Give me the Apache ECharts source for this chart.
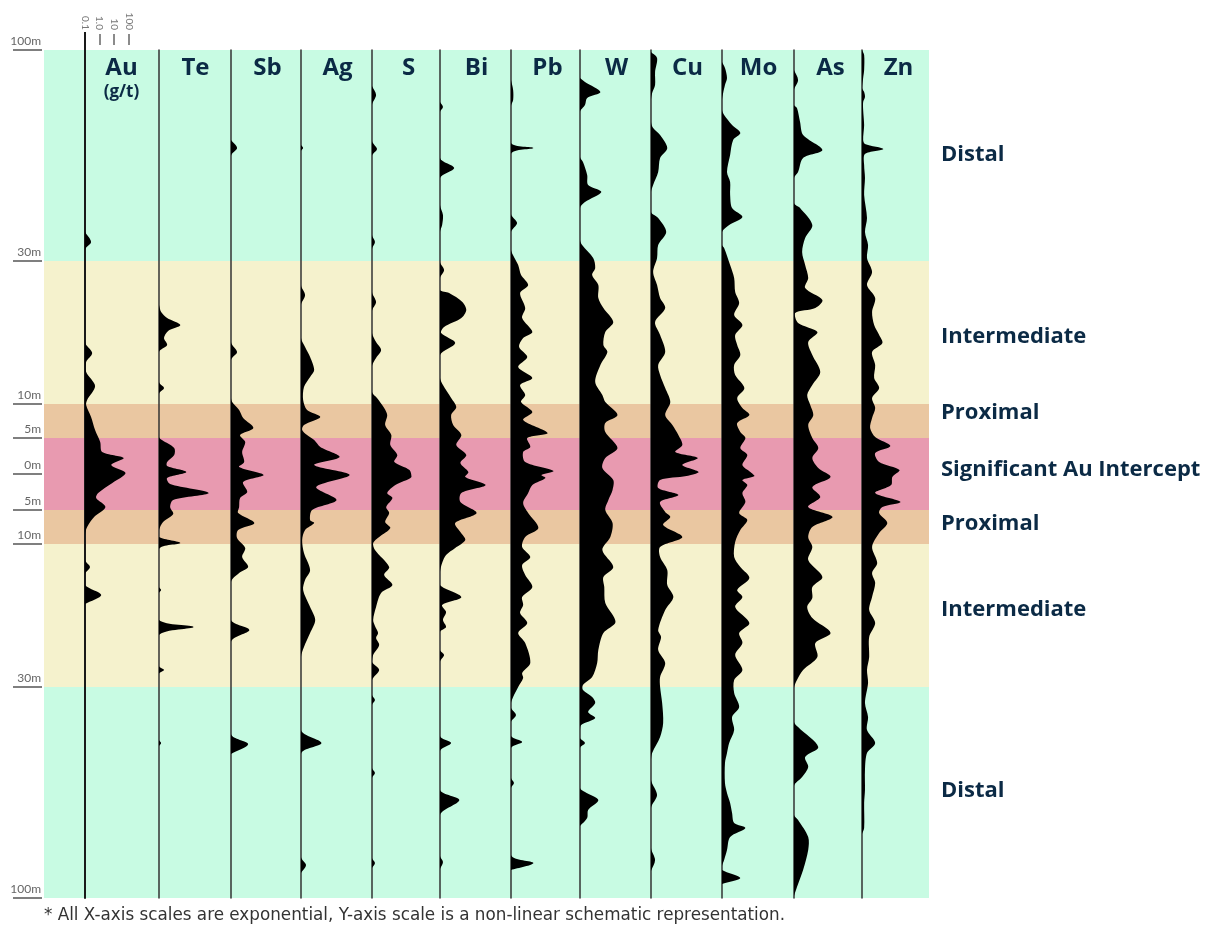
<!DOCTYPE html>
<html><head><meta charset="utf-8">
<script src="https://cdn.jsdelivr.net/npm/echarts@6/dist/echarts.min.js"></script>
<style>html,body{margin:0;padding:0;background:#fff}#c{width:1211px;height:929px}</style>
</head><body><div id="c"></div>
<script>
// ---------- DATA ----------
// Element columns (concentration on an exponential x scale, 0.1 = baseline)
const elements = ['Au','Te','Sb','Ag','S','Bi','Pb','W','Cu','Mo','As','Zn'];
const elementUnits = ['(g/t)','','','','','','','','','','',''];

// Depth is a schematic index (-212 top .. 212 bottom, 0 = centre of Au intercept)
const depthTicks  = [-212,-106.5,-35,-18,0,18,35,106.5,212];
const depthLabels = ['100m','30m','10m','5m','0m','5m','10m','30m','100m'];

const zoneNames = ['Distal','Intermediate','Proximal','Significant Au Intercept','Proximal','Intermediate','Distal'];
const zoneFrom  = [-212,-106.5,-35,-18,18,35,106.5];
const zoneTo    = [-106.5,-35,-18,18,35,106.5,212];

const scaleTicks = [0.1,1,10,100];
const scaleTickLabels = ['0.1','1.0','10','100'];

// profiles: [depth, concentration]
const auData = [[-121,0.1],[-116,0.26],[-112,0.1],[-66,0.1],[-60.5,0.31],[-56,0.12],[-51,0.12],[-44,0.49],[-37,0.14],[-34.5,0.12],[-28.5,0.26],[-22,0.49],[-16,1.1],[-11,1.5],[-8,44],[-4.5,6.3],[-0.5,60],[4.5,7.5],[9.5,0.8],[12,0.58],[16.5,2.5],[21.5,0.42],[26.5,0.14],[30.5,0.1],[43,0.1],[46.5,0.22],[50,0.1],[55.5,0.1],[60.5,1.3],[65,0.1]];
const teData = [[-84.5,0.1],[-81,0.14],[-78,0.36],[-74.5,2.9],[-71.5,0.42],[-68,0.22],[-64.5,0.36],[-61,0.1],[-46,0.1],[-43,0.22],[-40,0.1],[-18.5,0.1],[-17,0.16],[-13,1.1],[-9.5,1.1],[-6,0.36],[-4,0.36],[-1,7.5],[2,0.36],[5,0.58],[9.5,250],[13,0.94],[16.5,0.58],[20,0.94],[24,0.19],[28,0.1],[31.5,0.1],[34.5,2.9],[37.5,0.1],[56.5,0.1],[58,0.14],[59.5,0.1],[73,0.1],[76.5,23],[80.5,0.1],[96,0.1],[98,0.22],[100,0.1],[133,0.1],[134.5,0.14],[136,0.1]];
const sbData = [[-167,0.1],[-163,0.26],[-159,0.1],[-66,0.1],[-61,0.26],[-57,0.1],[-38,0.1],[-36,0.12],[-32,0.36],[-28,0.68],[-23,3.4],[-19.5,0.42],[-16,0.94],[-11,0.58],[-6,0.8],[-3.5,0.36],[0.5,17],[4,0.68],[9,1.3],[12,0.42],[16.5,0.36],[19.5,0.31],[24.5,4],[28,0.31],[32,0.26],[37,0.94],[41.5,0.58],[46.5,1.5],[49.5,0.36],[54,0.1],[73,0.1],[78,1.8],[84,0.1],[130,0.1],[135,1.5],[140,0.1]];
const agData = [[-164.5,0.1],[-163,0.14],[-161.5,0.1],[-94.5,0.1],[-89.5,0.19],[-84.5,0.1],[-68,0.1],[-63.5,0.19],[-58.5,0.42],[-52,0.8],[-48.5,0.42],[-43.5,0.16],[-37,0.14],[-32,0.26],[-28.5,2.1],[-24.5,0.16],[-22,0.12],[-19.5,0.26],[-17,0.8],[-13.5,2.1],[-8.5,44],[-4.5,0.8],[0.5,215],[6.5,1.1],[13,27],[18,0.58],[23,0.42],[24.5,0.8],[28,0.19],[33,0.12],[39.5,0.16],[48,0.42],[53,0.19],[58,0.14],[66.5,0.42],[73,0.94],[79.5,0.42],[86.5,0.16],[91.5,0.1],[128,0.1],[134.5,2.5],[140,0.1],[191.5,0.1],[195.5,0.22],[199.5,0.1]];
const sData = [[-194,0.1],[-189.5,0.19],[-184.5,0.1],[-166.5,0.1],[-162.5,0.22],[-159,0.1],[-119.5,0.1],[-116,0.16],[-112.5,0.1],[-91,0.1],[-86,0.19],[-81.5,0.1],[-70.5,0.1],[-66,0.19],[-62,0.42],[-58,0.19],[-54,0.1],[-41,0.1],[-38,0.22],[-33,0.68],[-29.5,1.1],[-24.5,0.8],[-19.5,2.1],[-14.5,1.8],[-9.5,5.4],[-6,3.4],[-2,37],[1.5,51],[5.5,4],[9.5,1.1],[12,2.5],[16.5,0.94],[19.5,1.5],[24,0.8],[27,1.8],[31.5,0.31],[34.5,0.12],[38,0.16],[46.5,1.5],[50.5,0.68],[55.5,2.5],[59.5,0.42],[66.5,0.19],[73,0.12],[76,0.16],[79.5,0.26],[82,0.19],[85.5,0.31],[90.5,0.12],[94,0.1],[98,0.31],[103,0.1],[110.5,0.1],[113,0.16],[115.5,0.1],[147,0.1],[149.5,0.16],[152,0.1],[192,0.1],[194.5,0.16],[197,0.1]];
const biData = [[-186,0.1],[-183.5,0.16],[-181,0.1],[-158,0.1],[-153,0.94],[-148,0.1],[-134.5,0.1],[-129.5,0.16],[-124.5,0.14],[-121,0.1],[-106,0.1],[-102,0.19],[-98,0.1],[-92,0.1],[-90.5,0.42],[-86,3.4],[-82,6.3],[-78,2.9],[-73.5,0.19],[-70.5,0.12],[-65.5,1.1],[-59.5,0.1],[-48,0.1],[-44.5,0.16],[-38,0.58],[-33.5,1.3],[-29.5,0.58],[-24.5,0.8],[-19.5,2.9],[-14.5,1.3],[-9.5,6.3],[-5.5,2.5],[-1,8.8],[1.5,5.4],[5.5,133],[9.5,2.9],[14,2.5],[19.5,32],[24.5,1.1],[29,2.5],[33,5.4],[37,1.1],[40.5,0.26],[44.5,0.14],[49,0.1],[55.5,0.1],[61.5,2.9],[65.5,0.14],[69,0.26],[73,0.16],[76.5,0.26],[79,0.1],[88,0.1],[90.5,0.19],[94,0.1],[131,0.1],[134.5,0.58],[138.5,0.1],[158,0.1],[163,2.1],[170.5,0.1],[191,0.1],[194,0.16],[197.5,0.1]];
const pbData = [[-197,0.1],[-192,0.14],[-187,0.14],[-184,0.1],[-165.5,0.1],[-163,3.4],[-160,0.1],[-130,0.1],[-125.5,0.26],[-121,0.1],[-112,0.1],[-104.5,0.31],[-99.5,0.49],[-94.5,1.5],[-90.5,0.42],[-83,0.94],[-78,0.58],[-71,2.9],[-68,0.68],[-63.5,0.36],[-58.5,1.3],[-53.5,0.31],[-48,2.9],[-44.5,0.42],[-39.5,0.94],[-36,0.49],[-31,2.9],[-27,0.68],[-20.5,32],[-18,1.3],[-13.5,2.1],[-11,0.68],[-6,0.94],[-1.5,83],[0.5,12],[2,23],[5.5,2.9],[9.5,1.5],[14.5,0.68],[19.5,1.5],[27,7.5],[31.5,0.94],[36.5,0.58],[41.5,2.1],[45.5,0.58],[50.5,0.94],[56.5,2.9],[61.5,0.58],[65.5,0.68],[69.5,0.42],[74.5,1.3],[79.5,0.31],[84.5,0.94],[94.5,2.1],[99.5,0.58],[102,0.68],[106.5,0.31],[111.5,0.14],[114.5,0.1],[117,0.1],[120.5,0.22],[124,0.1],[131,0.1],[134,0.58],[137,0.1],[152,0.1],[154.5,0.16],[157,0.1],[190.5,0.1],[194.5,3.4],[198,0.1]];
const wData = [[-198,0.1],[-196,0.22],[-191,2.5],[-188,0.31],[-184.5,0.22],[-181,0.1],[-158.5,0.1],[-156,0.16],[-149.5,0.31],[-144.5,0.36],[-141,2.9],[-136,0.22],[-133,0.1],[-117,0.1],[-114.5,0.14],[-108,0.8],[-103,1.1],[-99.5,0.68],[-94.5,1.8],[-88,1.8],[-83,4],[-76,19],[-71,5.4],[-64.5,4],[-61,7.5],[-54.5,2.5],[-46,1.1],[-39.5,3.4],[-36,5.4],[-29.5,37],[-25.5,5.4],[-21,5.4],[-13,37],[-8,5.4],[-3,3.4],[3,19],[8,17],[13,8.8],[18,5.4],[24.5,17],[31.5,12],[38,3.4],[46.5,19],[51.5,4],[56.5,4.6],[64.5,5.4],[74,27],[79.5,4],[88,1.8],[94.5,1.5],[101.5,0.68],[105.5,0.16],[108,0.16],[111.5,0.68],[114.5,1.1],[119,0.36],[122,1.1],[125.5,0.12],[128,0.1],[132,0.1],[134.5,0.22],[137,0.1],[157,0.1],[159,0.22],[163,1.8],[168,0.36],[172,0.31],[176,0.1]];
const cuData = [[-211,0.1],[-208,0.26],[-201,0.19],[-194.5,0.19],[-190.5,0.12],[-187,0.1],[-176,0.1],[-173,0.14],[-169.5,0.42],[-163,1.3],[-158,0.42],[-151,0.31],[-144.5,0.14],[-141,0.1],[-131,0.1],[-128,0.31],[-121,1.1],[-114.5,0.31],[-108,0.26],[-101,0.14],[-94.5,0.26],[-88,0.42],[-83,0.94],[-76,0.19],[-69.5,0.42],[-61,0.94],[-54.5,0.31],[-49.5,0.42],[-43,0.94],[-36,2.1],[-29.5,0.94],[-24.5,2.9],[-19.5,7.5],[-14.5,14],[-11,4.6],[-8,158],[-4.5,14],[-1,185],[1,27],[3,0.42],[7,0.31],[10.5,7.5],[14,0.42],[19,0.94],[21.5,2.1],[25.5,0.68],[31.5,14],[36.5,0.42],[41.5,0.42],[48,1.3],[55.5,1.3],[61.5,3.4],[68,0.94],[78,0.31],[81.5,0.49],[88,0.31],[94.5,0.94],[101.5,0.42],[106.5,0.42],[114.5,0.58],[124.5,0.68],[131.5,0.42],[139.5,0.12],[143,0.1],[153,0.1],[160.5,0.26],[167,0.1],[187,0.1],[193,0.19],[198.5,0.1]];
const moData = [[-206,0.1],[-203,0.16],[-198,0.22],[-194.5,0.16],[-190.5,0.12],[-187,0.1],[-182,0.1],[-179.5,0.14],[-174.5,0.49],[-170.5,1.8],[-167,0.58],[-159.5,0.36],[-151,0.22],[-146,0.36],[-139.5,0.36],[-133,0.49],[-128.5,2.5],[-124.5,0.31],[-121,0.1],[-114.5,0.1],[-113,0.14],[-104.5,0.36],[-98,0.68],[-91,0.8],[-85.5,1.5],[-79.5,0.68],[-74.5,2.5],[-69.5,0.8],[-64.5,1.1],[-59.5,1.8],[-54.5,0.68],[-49.5,0.8],[-43,3.4],[-38,1.1],[-33,2.5],[-29.5,7.5],[-25.5,1.1],[-21,1.8],[-18,4],[-13,1.8],[-9.5,5.4],[-4.5,2.5],[-1,8.8],[1,17],[3,2.5],[5.5,5.4],[9.5,2.5],[14,4],[19.5,1.5],[23,5.4],[28,1.8],[34,0.8],[41.5,0.68],[46.5,1.8],[52,7.5],[58,1.1],[61.5,2.5],[66.5,0.8],[74.5,7.5],[79.5,1.5],[84.5,2.5],[90.5,0.8],[98,2.5],[103,0.68],[109.5,0.68],[116.5,1.5],[121.5,0.49],[128,0.68],[134.5,0.31],[139.5,0.22],[144.5,0.16],[154.5,0.16],[159.5,0.22],[164.5,0.36],[169.5,0.49],[174.5,0.68],[177,4],[181.5,0.36],[188,0.22],[193,0.14],[196,0.1],[198,0.1],[202,1.8],[205,0.1]];
const asData = [[-202,0.1],[-197,0.19],[-192,0.1],[-184.5,0.1],[-183,0.16],[-176,0.26],[-169.5,0.42],[-162,8.8],[-158,0.42],[-151,0.19],[-148,0.1],[-135.5,0.1],[-133,0.26],[-124.5,1.8],[-118,0.58],[-111,0.36],[-104.5,0.58],[-98,0.94],[-93,0.58],[-87,8.8],[-83,2.9],[-80.5,0.12],[-75.5,0.19],[-71,4],[-66,0.94],[-59.5,1.8],[-51,6.3],[-44.5,1.8],[-39.5,0.8],[-34.5,1.3],[-29.5,2.1],[-24.5,0.94],[-18,1.8],[-13,4.6],[-8,1.8],[-3,4.6],[1.5,32],[6.5,1.8],[11.5,6.3],[16.5,0.94],[21.5,44],[26.5,1.8],[31.5,0.94],[36.5,1.8],[43,0.94],[51.5,8.8],[56.5,1.8],[62,1.8],[66.5,0.8],[72,1.8],[79.5,32],[84.5,2.9],[91.5,4],[98,0.42],[103,0.16],[107,0.1],[124,0.1],[126.5,0.19],[136.5,4.6],[141.5,0.58],[146.5,0.94],[151.5,0.36],[156,0.1],[170.5,0.1],[173,0.19],[181.5,0.94],[188,0.94],[198,0.42],[206.5,0.16],[211,0.1]];
const znData = [[-212,0.1],[-209.5,0.14],[-202,0.14],[-198,0.12],[-193,0.1],[-191,0.14],[-188.5,0.16],[-186,0.12],[-182,0.12],[-174.5,0.14],[-167,0.12],[-165,0.16],[-162.5,2.9],[-160,0.16],[-154.5,0.14],[-148,0.16],[-139.5,0.14],[-128,0.22],[-121,0.16],[-114.5,0.26],[-108,0.22],[-101,0.49],[-94.5,0.22],[-88,0.8],[-81,0.49],[-74.5,0.68],[-69.5,1.5],[-65.5,2.5],[-61,0.49],[-54.5,0.8],[-48,0.68],[-43,1.5],[-38,0.49],[-33,0.8],[-28,0.49],[-23,0.36],[-18.5,0.8],[-14,8.8],[-10.5,0.8],[-6,1.5],[-2,37],[1.5,12],[5.5,10],[9.5,0.8],[14,44],[16.5,2.5],[19.5,1.5],[24.5,5.4],[29.5,1.5],[36.5,0.49],[44.5,1.1],[49.5,0.49],[54.5,0.8],[61.5,0.49],[68,0.31],[74.5,0.8],[81.5,0.31],[91.5,0.31],[98,0.22],[104.5,0.26],[114.5,0.16],[121.5,0.26],[128,0.22],[134.5,0.8],[139.5,0.22],[148,0.16],[158,0.16],[164.5,0.14],[177,0.14],[180,0.1]];

const profiles = [auData, teData, sbData, agData, sData, biData, pbData, wData, cuData, moData, asData, znData];

// ---------- LAYOUT / STYLE ----------
const colLeft = [85,159,231,301,372,440,511,580,651,722,794,862];
const colWidth = 73;
const plotTop = 50, plotHeight = 848;
const zoneColors = ['#c8fbe3','#f5f2cd','#eac7a1','#e89ab0','#eac7a1','#f5f2cd','#c8fbe3'];
const zoneLabelDy = [-1,4,-8,-4,-3,-6,-2];
const navy = '#0b2a45';
const FONT = 'Lato';
const HEAD = 'Open Sans';

function nearestIndex(list, v, useLog) {
  let best = 0, bd = Infinity;
  list.forEach((t, k) => {
    const d = useLog ? Math.abs(Math.log10(t) - Math.log10(v)) : Math.abs(t - v);
    if (d < bd) { bd = d; best = k; }
  });
  return best;
}

const grids = [{left:44, top:plotTop, width:885, height:plotHeight}];
colLeft.forEach(l => grids.push({left:l, top:plotTop, width:colWidth, height:plotHeight}));

const xAxes = [{gridIndex:0, type:'value', min:0, max:1, show:false}];
const yAxes = [{
  gridIndex:0, type:'value', min:-212, max:212, inverse:true, position:'left', offset:2,
  axisLine:{show:false, onZero:false},
  axisTick:{show:true, customValues:depthTicks, length:29, lineStyle:{color:'#555', width:1.5}},
  axisLabel:{show:true, customValues:depthTicks, showMinLabel:true, showMaxLabel:true, hideOverlap:false,
    formatter:(v)=>depthLabels[nearestIndex(depthTicks, Number(v), false)],
    align:'right', verticalAlign:'bottom', margin:1, padding:[0,0,3,0],
    color:'#666', fontSize:12, fontFamily:FONT},
  splitLine:{show:false}
}];

elements.forEach((el, i) => {
  const nm = elementUnits[i] ? `{el|${el}}\n{unit|${elementUnits[i]}}` : `{el|${el}}`;
  xAxes.push({
    gridIndex:i+1, type:'log', logBase:10, min:0.1, max:10000, position:'top',
    name:nm, nameLocation:'middle', nameGap:-3,
    nameTextStyle:{verticalAlign:'top', align:'center', rich:{
      el:{fontSize:24, fontWeight:'bold', color:navy, fontFamily:HEAD, lineHeight:30},
      unit:{fontSize:17, fontWeight:'bold', color:navy, fontFamily:HEAD, lineHeight:18}
    }},
    axisLine:{show:false, onZero:false}, axisTick:{show:false}, axisLabel:{show:false}, splitLine:{show:false}
  });
  yAxes.push({
    gridIndex:i+1, type:'value', min:-212, max:212, inverse:true, position:'left',
    axisLine:{show:true, onZero:false, lineStyle:{color: i===0 ? '#1a1a1a' : '#333', width: i===0 ? 2 : 1.5}},
    axisTick:{show:false}, axisLabel:{show:false}, splitLine:{show:false}
  });
});
// scale ticks above the Au column
xAxes.push({
  gridIndex:1, type:'log', logBase:10, min:0.1, max:10000, position:'top', offset:5,
  axisLine:{show:false, onZero:false},
  axisTick:{show:true, customValues:[1,10,100], length:11, lineStyle:{color:'#666', width:1.5}},
  axisLabel:{show:true, customValues:scaleTicks, showMinLabel:true, hideOverlap:false,
    formatter:(v)=>scaleTickLabels[nearestIndex(scaleTicks, Number(v), true)], rotate:90, margin:15,
    color:'#777', fontSize:10, fontFamily:FONT},
  splitLine:{show:false}
});
xAxes.push({
  gridIndex:1, type:'log', logBase:10, min:0.1, max:10000, position:'top', offset:0,
  axisLine:{show:false, onZero:false},
  axisTick:{show:true, customValues:[0.1], length:18, lineStyle:{color:'#1a1a1a', width:2}},
  axisLabel:{show:false}, splitLine:{show:false}
});

function renderProfile(params, api) {
  if (params.dataIndexInside !== 0) return null;
  const n = params.dataInsideLength;
  const pts = [];
  pts.push(api.coord([0.1, api.value(1, 0)]));
  for (let j = 0; j < n; j++) pts.push(api.coord([api.value(0, j), api.value(1, j)]));
  pts.push(api.coord([0.1, api.value(1, n - 1)]));
  let x0 = Infinity, y0 = Infinity, x1 = -Infinity, y1 = -Infinity;
  pts.forEach(p => { x0 = Math.min(x0, p[0]); y0 = Math.min(y0, p[1]); x1 = Math.max(x1, p[0]); y1 = Math.max(y1, p[1]); });
  return {type:'polygon', shape:{points:pts, smooth:0.3, smoothConstraint:[[x0, y0], [x1, y1]]}, style:{fill:'#000'}};
}

const series = [{
  type:'custom', xAxisIndex:0, yAxisIndex:0, clip:false, silent:true, z:0,
  data: zoneNames.map((n,i)=>[zoneFrom[i], zoneTo[i], i]),
  renderItem:(params, api) => {
    const i = api.value(2);
    const a = api.coord([0, api.value(0)]);
    const b = api.coord([1, api.value(1)]);
    return {type:'group', children:[
      {type:'rect', shape:{x:a[0], y:a[1], width:b[0]-a[0], height:b[1]-a[1]}, style:{fill:zoneColors[i]}},
      {type:'text', x:b[0]+12, y:(a[1]+b[1])/2 + zoneLabelDy[i],
        style:{text:zoneNames[i], fill:navy, font:`bold 22px '${HEAD}'`, verticalAlign:'middle', align:'left'}}
    ]};
  }
}];
profiles.forEach((p, i) => {
  series.push({
    type:'custom', xAxisIndex:i+1, yAxisIndex:i+1, clip:false, silent:true, z:3,
    data: p.map(d => [d[1], d[0]]),
    renderItem: renderProfile
  });
});

const chart = echarts.init(document.getElementById('c'), null, {renderer:'canvas'});
chart.setOption({
  animation:false,
  backgroundColor:'#fff',
  textStyle:{fontFamily:FONT},
  title:{text:'* All X-axis scales are exponential, Y-axis scale is a non-linear schematic representation.',
    left:44, top:907, padding:0,
    textStyle:{fontSize:16.8, fontWeight:'normal', color:'#333', fontFamily:'DejaVu Sans'}},
  grid:grids, xAxis:xAxes, yAxis:yAxes, series:series
});
</script>
</body></html>
